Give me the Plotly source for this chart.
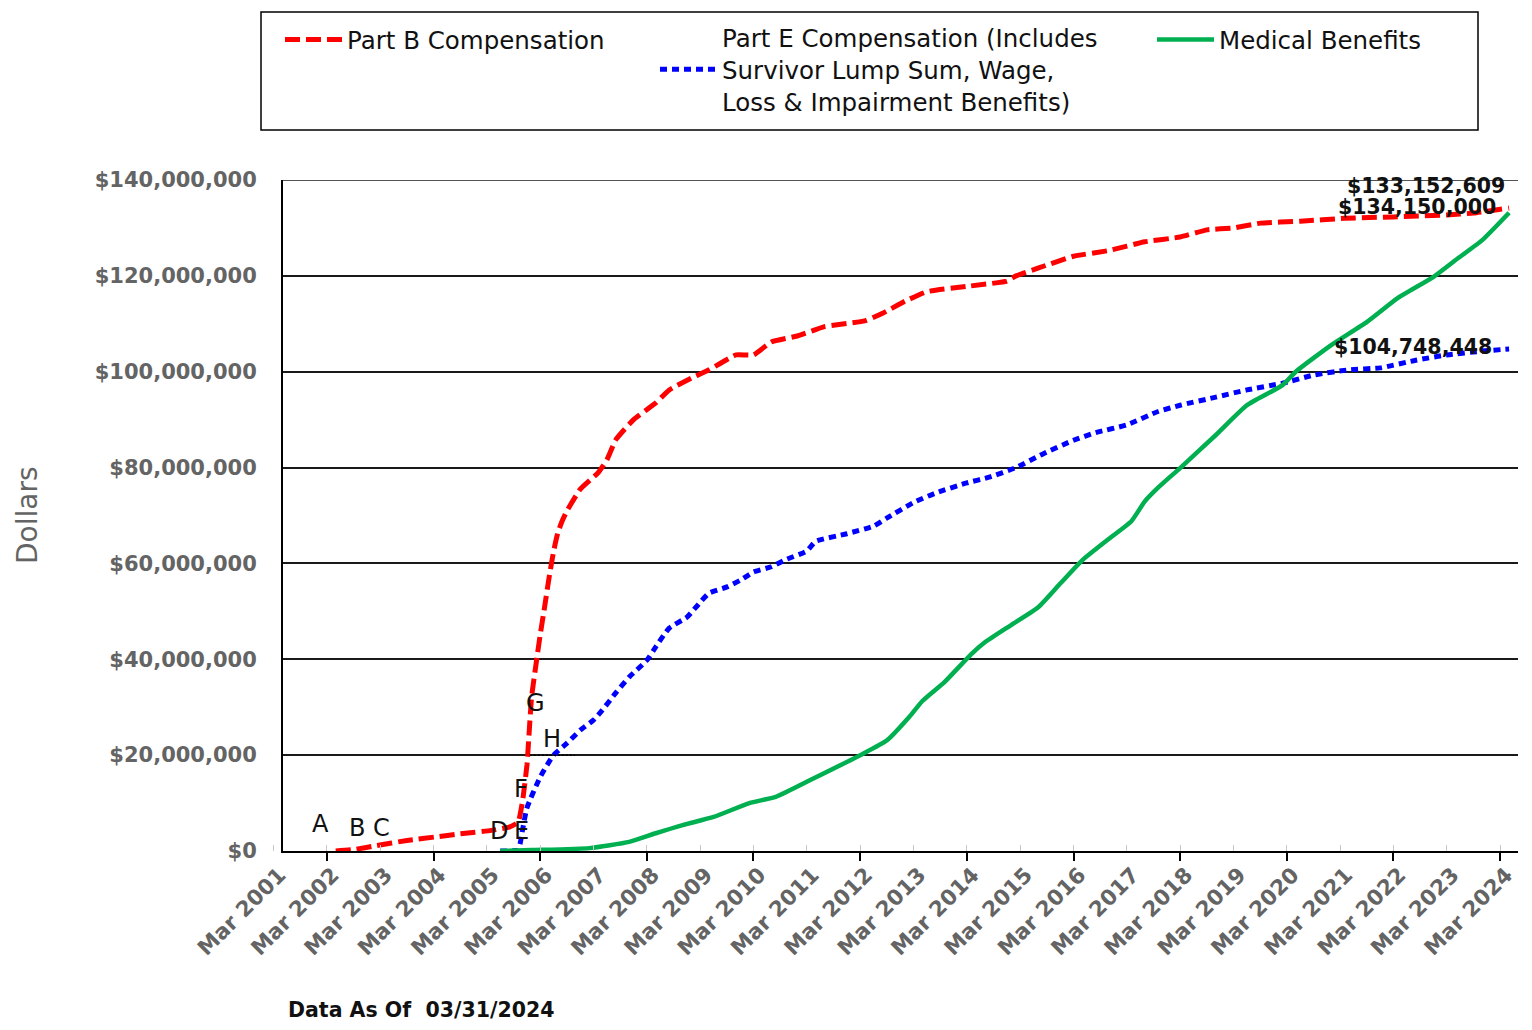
import plotly.graph_objects as go
import pandas as pd

# ---------------- data (values in millions of dollars) ----------------
part_b_dates = ["2002-05", "2002-09", "2003-02", "2003-09", "2004-04", "2004-09", "2005-04",
                "2005-08", "2005-10", "2005-11", "2005-12", "2006-01", "2006-02", "2006-03",
                "2006-04", "2006-05", "2006-06", "2006-07", "2006-08", "2006-09", "2006-12",
                "2007-04", "2007-06", "2007-08", "2007-12", "2008-05", "2008-08", "2009-01",
                "2009-05", "2009-11", "2010-03", "2010-07", "2011-01", "2011-07", "2012-04",
                "2012-08", "2013-01", "2013-06", "2014-03", "2014-12", "2015-02", "2015-07",
                "2016-03", "2016-11", "2017-07", "2018-03", "2018-09", "2019-03", "2019-09",
                "2020-06", "2021-04", "2022-03", "2023-03", "2023-09", "2024-05"]
part_b_musd = [0.0, 0.3, 1.1, 2.2, 3.0, 3.6, 4.3,
               5.0, 6.0, 10.5, 18.0, 32.0, 39.0, 45.0,
               51.0, 57.0, 62.5, 66.5, 69.0, 71.0, 75.5,
               78.9, 81.6, 85.8, 90.0, 93.5, 96.2, 98.7,
               100.4, 103.5, 103.5, 106.2, 107.5, 109.4, 110.6,
               112.2, 114.7, 116.7, 117.8, 118.9, 120.0, 121.6,
               124.1, 125.3, 127.1, 128.1, 129.6, 130.0, 131.0,
               131.4, 132.0, 132.3, 132.7, 133.1, 134.15]

part_e_dates = ["2005-06", "2005-10", "2005-11", "2005-12", "2006-03", "2006-06", "2006-09",
                "2006-12", "2007-03", "2007-05", "2007-08", "2007-11", "2008-03", "2008-05",
                "2008-08", "2008-12", "2009-02", "2009-05", "2009-09", "2009-12", "2010-03",
                "2010-07", "2010-10", "2011-03", "2011-05", "2011-12", "2012-06", "2012-09",
                "2013-03", "2013-08", "2014-03", "2014-08", "2015-02", "2015-08", "2016-03",
                "2016-08", "2017-03", "2017-10", "2018-03", "2018-11", "2019-06", "2020-02",
                "2020-09", "2021-05", "2021-12", "2022-08", "2023-03", "2023-11", "2024-05"]
part_e_musd = [0.0, 0.3, 4.5, 9.0, 15.4, 20.0, 22.5,
               25.2, 27.3, 29.4, 33.0, 36.3, 39.8, 42.6,
               46.5, 48.8, 50.9, 53.8, 55.1, 56.5, 58.2,
               59.3, 60.7, 62.6, 64.6, 66.2, 67.8, 69.5,
               72.7, 74.7, 76.8, 78.0, 80.0, 82.8, 85.7,
               87.3, 88.9, 91.7, 93.0, 94.7, 96.2, 97.6,
               99.3, 100.4, 100.8, 102.4, 103.5, 104.3, 104.748448]

medical_dates = ["2005-06", "2006-01", "2007-02", "2007-11", "2008-05", "2008-11", "2009-06",
                 "2010-02", "2010-08", "2011-04", "2012-03", "2012-09", "2013-02", "2013-05",
                 "2013-10", "2014-04", "2014-07", "2015-01", "2015-07", "2015-12", "2016-05",
                 "2016-11", "2017-04", "2017-07", "2017-10", "2018-03", "2018-11", "2019-06",
                 "2020-02", "2020-05", "2021-01", "2021-09", "2022-04", "2022-12", "2023-05",
                 "2023-11", "2024-05"]
medical_musd = [0.0, 0.2, 0.6, 1.9, 3.7, 5.4, 7.1,
                10.0, 11.3, 14.9, 20.0, 23.1, 28.0, 31.3,
                35.3, 41.1, 43.5, 47.2, 50.8, 55.8, 60.7,
                65.2, 68.8, 72.9, 75.8, 79.9, 86.8, 93.0,
                97.2, 100.0, 105.6, 110.4, 115.4, 119.8, 123.3,
                127.5, 133.152609]

final_labels = ["$134,150,000", "$104,748,448", "$133,152,609"]

marker_letters = ["A", "B", "C", "D", "E", "F", "G", "H"]
marker_dates = ["2002-01-15", "2002-09-25", "2003-03-10", "2005-05-20",
                "2005-10-25", "2005-10-20", "2006-01-25", "2006-05-20"]
marker_musd = [5.6, 4.8, 4.8, 4.2, 4.2, 12.9, 30.9, 23.4]

ref_line_dates = ["2005-12-20", "2006-10-25"]
ref_line_musd = [20.0, 20.0]

year_labels = list(range(2001, 2025))
y_ticks_musd = [0, 20, 40, 60, 80, 100, 120, 140]

M = 1_000_000
part_b = [v * M for v in part_b_musd]
part_e = [v * M for v in part_e_musd]
medical = [v * M for v in medical_musd]

# ---------------- layout geometry (page has an 8px body margin) ----------------
OFF = 8
W, H = 1532 - 2 * OFF, 1030 - 2 * OFF
PLOT_L, PLOT_R, PLOT_T, PLOT_B = 283, 1518, 180, 851   # target pixels in the window
LBL_L = 250                                            # left end of the label axis
ML = LBL_L - OFF
MR = W - (PLOT_R - OFF)
MT = PLOT_T - OFF
MB = H - (PLOT_B - OFF)
plot_w = W - ML - MR
plot_h = H - MT - MB
d0 = (PLOT_L - LBL_L) / plot_w

x_start = pd.Timestamp("2001-05-05")
x_end = pd.Timestamp("2024-07-01")
span = x_end - x_start
x2_start = x_start - span * ((PLOT_L - LBL_L) / (plot_w * (1 - d0)))


def px(xp):
    return (xp - OFF - ML) / plot_w


def py(yp):
    return (H - MB - (yp - OFF)) / plot_h


FONT = "DejaVu Sans"
GRAY = "#646464"

fig = go.Figure()

fig.add_trace(go.Scatter(
    x=part_e_dates, y=part_e, mode="lines",
    name="Part E Compensation (Includes<br>Survivor Lump Sum, Wage,<br>Loss &amp; Impairment Benefits)",
    line=dict(color="#0000FF", width=5, dash="7px,5px", shape="spline", smoothing=0.5),
    legend="legend2"))
fig.add_trace(go.Scatter(
    x=part_b_dates, y=part_b, mode="lines", name="Part B Compensation",
    line=dict(color="#FF0000", width=5, dash="15px,6px", shape="spline", smoothing=0.4),
    legend="legend"))
fig.add_trace(go.Scatter(
    x=medical_dates, y=medical, mode="lines", name="Medical Benefits",
    line=dict(color="#00B050", width=4.5, shape="spline", smoothing=0.5), legend="legend3"))
fig.add_trace(go.Scatter(
    x=ref_line_dates, y=[v * M for v in ref_line_musd], mode="lines", showlegend=False,
    line=dict(color="#000000", width=1.5, dash="2px,2px"), hoverinfo="skip"))
# carrier for the label-only axis
fig.add_trace(go.Scatter(x=[], y=[], xaxis="x2", yaxis="y2", showlegend=False))

# top grid line at $140,000,000
fig.add_shape(type="line", xref="x domain", yref="y", x0=0, x1=1,
              y0=y_ticks_musd[-1] * M, y1=y_ticks_musd[-1] * M,
              line=dict(color="#1a1a1a", width=1.5))

# value labels at the series ends
ends = [(part_b_dates[-1], part_b[-1], final_labels[0], -11, 1),
        (part_e_dates[-1], part_e[-1], final_labels[1], -15, 2),
        (medical_dates[-1], medical[-1], final_labels[2], -2, 27)]
for xd, yv, txt, xs, ys in ends:
    fig.add_annotation(x=xd, y=yv, text=txt, showarrow=False, xanchor="right",
                       yanchor="middle", xshift=xs, yshift=ys,
                       font=dict(family=FONT, size=20.5, color="#111111", weight="bold"))

for letter, xd, yv in zip(marker_letters, marker_dates, marker_musd):
    fig.add_annotation(x=xd, y=yv * M, text=letter, showarrow=False,
                       xanchor="center", yanchor="middle",
                       font=dict(family=FONT, size=24, color="#111111"))

# y title and footer
fig.add_annotation(xref="paper", yref="paper", x=px(27), y=py(515), text="Dollars",
                   textangle=-90, showarrow=False, xanchor="center", yanchor="middle",
                   font=dict(family=FONT, size=28, color=GRAY))
fig.add_annotation(xref="paper", yref="paper", x=px(286), y=py(1010),
                   text="Data As Of\u00a0 03/31/2024", showarrow=False,
                   xanchor="left", yanchor="middle",
                   font=dict(family=FONT, size=20.5, color="#111111", weight="bold"))

# legend frame
fig.add_shape(type="rect", xref="paper", yref="paper",
              x0=px(261), x1=px(1478), y0=py(130), y1=py(12),
              line=dict(color="#000000", width=1.5), fillcolor="rgba(0,0,0,0)")

leg = dict(font=dict(family=FONT, size=24.5, color="#111111"), bgcolor="rgba(0,0,0,0)",
           borderwidth=0, xanchor="left", yanchor="top", itemwidth=57,
           orientation="v")

fig.update_layout(
    width=W, height=H,
    margin=dict(l=ML, r=MR, t=MT, b=MB),
    paper_bgcolor="white", plot_bgcolor="rgba(0,0,0,0)",
    showlegend=True,
    legend=dict(x=px(280), y=py(17), **leg),
    legend2=dict(x=px(655), y=py(15), **leg),
    legend3=dict(x=px(1152), y=py(17), **leg),
    xaxis=dict(type="date", domain=[d0, 1], range=[x_start, x_end], anchor="y",
               tickmode="array", tickvals=[f"{y}-03-01" for y in range(2002, 2025, 2)],
               ticks="outside", ticklen=8, tickwidth=2, tickcolor="#000000",
               showticklabels=False, showline=True, linecolor="#000000", linewidth=2,
               showgrid=False, zeroline=False),
    xaxis2=dict(type="date", domain=[0, 1], range=[x2_start, x_end], anchor="y2",
                tickmode="array", tickvals=[f"{y}-03-01" for y in year_labels],
                ticktext=[f"Mar {y}" for y in year_labels], tickangle=-45,
                ticks="inside", ticklen=6, tickwidth=1, tickcolor="#c8c8c8",
                ticklabelstandoff=6, ticklabelshift=6,
                tickfont=dict(family=FONT, size=21.5, color=GRAY, weight="bold"),
                showline=False, showgrid=False, zeroline=False),
    yaxis=dict(range=[0, 140 * M], tickmode="array", tickvals=[v * M for v in y_ticks_musd],
               ticktext=[f"${v * M:,}" for v in y_ticks_musd], anchor="x",
               tickfont=dict(family=FONT, size=21, color=GRAY, weight="bold"),
               ticks="", ticklabelstandoff=20,
               showgrid=True, gridcolor="#1a1a1a", gridwidth=1.5,
               showline=True, linecolor="#000000", linewidth=2, zeroline=False),
    yaxis2=dict(domain=[0, 1], range=[0, 1], visible=False, anchor="x2"),
)

fig.write_html("out.html")
